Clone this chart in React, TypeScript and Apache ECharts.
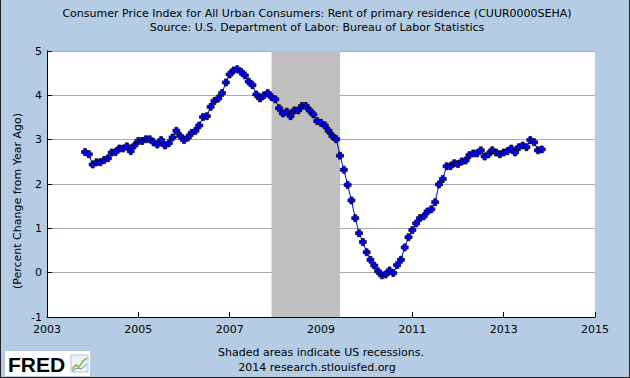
import React, { useEffect, useRef } from "react";
import * as echarts from "echarts";

// Monthly series: Nov 2003 .. Nov 2013 (percent change from year ago)
const START_YEAR = 2003;
const START_MONTH = 11; // November
const values: number[] = [
  2.72, 2.67, 2.44, 2.49, 2.49, 2.54, 2.58, 2.71, 2.72, 2.80,
  2.80, 2.85, 2.74, 2.87, 2.97, 2.97, 3.01, 3.01, 2.94, 2.89,
  2.99, 2.87, 2.92, 3.05, 3.20, 3.08, 2.99, 3.05, 3.15, 3.20,
  3.32, 3.51, 3.53, 3.74, 3.87, 3.93, 4.05, 4.29, 4.47, 4.56,
  4.59, 4.53, 4.45, 4.31, 4.23, 4.02, 3.93, 4.00, 4.05, 3.96,
  3.91, 3.71, 3.59, 3.63, 3.53, 3.66, 3.66, 3.76, 3.76, 3.66,
  3.57, 3.42, 3.38, 3.32, 3.20, 3.08, 3.01, 2.64, 2.32, 1.98,
  1.63, 1.23, 0.89, 0.69, 0.46, 0.29, 0.16, 0.03, -0.06, -0.04,
  0.05, -0.01, 0.17, 0.29, 0.57, 0.80, 0.96, 1.11, 1.23, 1.27,
  1.38, 1.43, 1.59, 1.99, 2.11, 2.40, 2.40, 2.47, 2.45, 2.51,
  2.53, 2.65, 2.69, 2.69, 2.76, 2.62, 2.67, 2.76, 2.71, 2.67,
  2.71, 2.74, 2.80, 2.71, 2.83, 2.87, 2.83, 2.99, 2.94, 2.76, 2.78,
];

// Recession: Dec 2007 .. Jun 2009
const recessionStart = { year: 2007, month: 12 };
const recessionEnd = { year: 2009, month: 6 };

const xMin = 2003;
const xMax = 2015;
const xStep = 2;
const yMin = -1;
const yMax = 5;
const yStep = 1;

const titleLine1 =
  "Consumer Price Index for All Urban Consumers: Rent of primary residence (CUUR0000SEHA)";
const titleLine2 = "Source: U.S. Department of Labor: Bureau of Labor Statistics";
const yAxisTitle = "(Percent Change from Year Ago)";
const footer1 = "Shaded areas indicate US recessions.";
const footer2 = "2014 research.stlouisfed.org";

const toYear = (y: number, m: number) => y + (m - 1) / 12;

const FONT = "DejaVu Sans";

export default function App() {
  const ref = useRef<HTMLDivElement>(null);
  useEffect(() => {
    if (!ref.current) return;
    const chart = echarts.init(ref.current, undefined, { renderer: "svg" });
    const startX = toYear(START_YEAR, START_MONTH);
    const data = values.map((v, i) => [startX + i / 12, v]);
    const markerPath =
      "path://M2,0 L5,0 L5,2 L7,2 L7,5 L5,5 L5,7 L2,7 L2,5 L0,5 L0,2 L2,2 Z";
    chart.setOption({
      animation: false,
      backgroundColor: "#B4CCE4",
      grid: {
        left: 47,
        right: 35,
        top: 51,
        bottom: 61,
        show: true,
        backgroundColor: "#FFFFFF",
        borderWidth: 0,
      },
      xAxis: {
        type: "value",
        min: xMin,
        max: xMax,
        interval: xStep,
        axisLine: { show: true, onZero: false, lineStyle: { color: "#000", width: 1 } },
        axisTick: { show: true, inside: true, length: 5, lineStyle: { color: "#000" } },
        axisLabel: {
          color: "#000",
          fontSize: 11,
          fontFamily: FONT,
          margin: 7,
          formatter: (v: number) => String(v),
        },
        splitLine: { show: false },
      },
      yAxis: {
        type: "value",
        min: yMin,
        max: yMax,
        interval: yStep,
        axisLine: { show: true, onZero: false, lineStyle: { color: "#000", width: 1 } },
        axisTick: { show: true, inside: true, length: 5, lineStyle: { color: "#000" } },
        axisLabel: { color: "#000", fontSize: 11, fontFamily: FONT, margin: 5 },
        splitLine: { show: true, lineStyle: { color: "#AAAAAA", width: 1 } },
      },
      series: [
        {
          type: "line",
          data,
          symbol: markerPath,
          symbolSize: 7,
          showSymbol: true,
          lineStyle: { color: "#0000FF", width: 1 },
          itemStyle: { color: "#0000FF", borderColor: "#000000", borderWidth: 0.7 },
          markArea: {
            silent: true,
            itemStyle: { color: "#C0C0C0", opacity: 1 },
            data: [
              [
                { xAxis: toYear(recessionStart.year, recessionStart.month) },
                { xAxis: toYear(recessionEnd.year, recessionEnd.month) },
              ],
            ],
          },
        },
      ],
      graphic: [
        {
          type: "text",
          x: 317,
          y: 13,
          style: {
            text: titleLine1,
            fontSize: 11,
            fontFamily: FONT,
            fill: "#000",
            textAlign: "center",
            textVerticalAlign: "middle",
          },
        },
        {
          type: "text",
          x: 317,
          y: 27,
          style: {
            text: titleLine2,
            fontSize: 11,
            fontFamily: FONT,
            fill: "#000",
            textAlign: "center",
            textVerticalAlign: "middle",
          },
        },
        {
          type: "text",
          x: 17,
          y: 201,
          rotation: Math.PI / 2,
          style: {
            text: yAxisTitle,
            fontSize: 11,
            fontFamily: FONT,
            fill: "#000",
            textAlign: "center",
            textVerticalAlign: "middle",
          },
        },
        {
          type: "text",
          x: 321,
          y: 352,
          style: {
            text: footer1,
            fontSize: 11,
            fontFamily: FONT,
            fill: "#000",
            textAlign: "center",
            textVerticalAlign: "middle",
          },
        },
        {
          type: "text",
          x: 317,
          y: 367,
          style: {
            text: footer2,
            fontSize: 11,
            fontFamily: FONT,
            fill: "#000",
            textAlign: "center",
            textVerticalAlign: "middle",
          },
        },
        // FRED logo
        {
          type: "rect",
          shape: { x: 5, y: 351, width: 85, height: 25 },
          style: { fill: "#FFFFFF" },
        },
        {
          type: "text",
          x: 8,
          y: 364,
          style: {
            text: "FRED",
            fontSize: 21,
            fontWeight: "bold",
            fontFamily: "Liberation Sans",
            fill: "#000",
            textVerticalAlign: "middle",
          },
        },
        {
          type: "rect",
          shape: { x: 71, y: 355, width: 17, height: 17 },
          style: { fill: "#EEF2F6", stroke: "#B8C4D0", lineWidth: 1 },
        },
        {
          type: "polyline",
          shape: { points: [[72, 369], [76, 365], [79, 367], [83, 361], [87, 358]] },
          style: { stroke: "#7CB342", lineWidth: 1.5, fill: null },
        },
        {
          type: "polyline",
          shape: { points: [[72, 371], [77, 368], [81, 369], [87, 364]] },
          style: { stroke: "#5B8DB8", lineWidth: 1, fill: null },
        },
        // outer frame (left, right, bottom)
        {
          type: "line",
          shape: { x1: 0.5, y1: 0, x2: 0.5, y2: 378 },
          style: { stroke: "#222", lineWidth: 1 },
        },
        {
          type: "line",
          shape: { x1: 629.5, y1: 0, x2: 629.5, y2: 378 },
          style: { stroke: "#222", lineWidth: 1 },
        },
        {
          type: "line",
          shape: { x1: 0, y1: 377.5, x2: 630, y2: 377.5 },
          style: { stroke: "#222", lineWidth: 1 },
        },
      ],
    });
    return () => chart.dispose();
  }, []);
  return (
    <div
      ref={ref}
      style={{ position: "absolute", left: 0, top: 0, width: 630, height: 378 }}
    />
  );
}
